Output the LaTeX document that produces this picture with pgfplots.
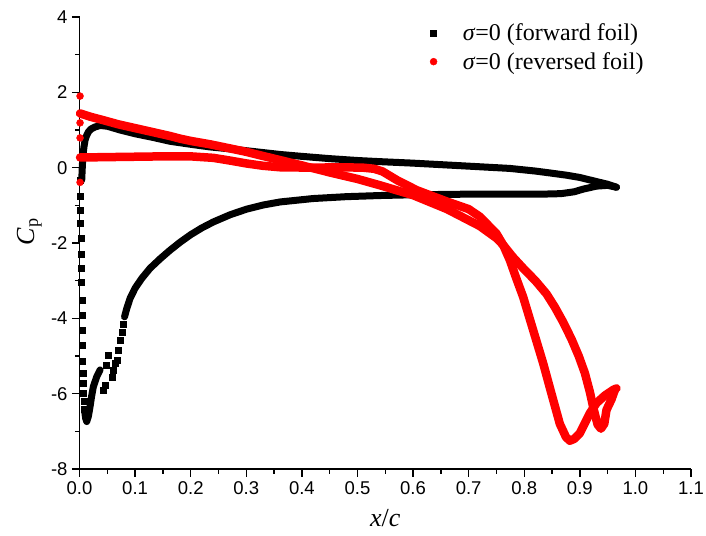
\documentclass[border=0pt]{standalone}
\usepackage{fontspec}
\setmainfont{Liberation Serif}
\newfontfamily\tickfont{Liberation Sans}
\usepackage{pgfplots}
\pgfplotsset{compat=1.18}
\definecolor{myred}{RGB}{255,0,0}
\begin{document}
\begin{tikzpicture}
\begin{axis}[
  scale only axis, width=611.5bp, height=452bp,
  xmin=0, xmax=1.1, ymin=-8, ymax=4,
  clip=false,
  axis x line*=bottom, axis y line*=left,
  axis line style={line width=1.5bp, -},
  xtick={0,0.1,0.2,0.3,0.4,0.5,0.6,0.7,0.8,0.9,1.0,1.1},
  ytick={-8,-6,-4,-2,0,2,4},
  minor tick num=1,
  tick align=outside,
  major tick length=7.5bp, minor tick length=4.5bp,
  every tick/.style={black, line width=1.4bp},
  xticklabel style={/pgf/number format/fixed, /pgf/number format/fixed zerofill,
    /pgf/number format/precision=1, yshift=-2bp},
  yticklabel style={xshift=-1bp},
  /pgf/number format/assume math mode=true,
  tick label style={font=\tickfont\fontsize{18.5bp}{22bp}\selectfont},
  xlabel={\textit{x}/\textit{c}},
  ylabel={\textit{C}\textsubscript{p}},
  label style={font=\fontsize{26bp}{30bp}\selectfont},
  x label style={at={(axis description cs:0.5,-0.108)}, anchor=center},
  y label style={at={(axis description cs:-0.082,0.525)}, anchor=center},
  legend style={draw=none, fill=none, at={(rel axis cs:0.573,0.987)}, anchor=north west,
    font=\fontsize{24bp}{28bp}\selectfont, row sep=8bp, inner sep=0pt,
    nodes={inner sep=1bp}},
  legend cell align=left,
  legend image code/.code={\path (0bp,0bp) (28bp,0bp); \draw[#1] plot coordinates {(0bp,0bp)};},
]
% forward foil: discrete leading-edge column (legend entry)
\addplot[only marks, mark=square*, mark size=3bp, black] coordinates {
(0.002,-0.33)(0.002,-0.77)(0.002,-1.13)(0.002,-1.48)(0.003,-1.88)(0.003,-2.29)
(0.003,-2.67)(0.003,-3.03)(0.004,-3.53)(0.004,-3.91)(0.004,-4.31)(0.005,-4.71)
(0.005,-5.15)(0.006,-5.46)(0.006,-5.72)(0.007,-5.99)(0.008,-6.21)(0.009,-6.42)
};
\addlegendentry{\textit{σ}=0 (forward foil)}
% forward foil: scattered marks near x/c = 0.04-0.08
\addplot[only marks, mark=square*, mark size=3bp, black, forget plot] coordinates {
(0.043,-5.9)(0.046,-5.77)(0.048,-5.24)(0.052,-4.97)(0.058,-5.55)(0.061,-5.37)
(0.064,-5.19)(0.067,-5.1)(0.070,-4.84)(0.073,-4.58)(0.076,-4.36)(0.078,-4.15)
};
% forward foil: trough
\addplot[black, line width=7bp, line join=round, line cap=round, forget plot] coordinates {
(0.009,-6.42)(0.011,-6.65)(0.013,-6.74)(0.016,-6.6)(0.019,-6.34)(0.022,-6.05)
(0.025,-5.81)(0.031,-5.55)(0.037,-5.37)
};
% forward foil: suction side, dense part
\addplot[black, line width=7bp, line join=round, line cap=round, forget plot] coordinates {
(0.081,-3.96)(0.085,-3.74)(0.091,-3.47)(0.1,-3.2)(0.112,-2.94)(0.127,-2.67)
(0.145,-2.42)(0.163,-2.19)(0.181,-1.98)(0.2,-1.78)(0.22,-1.6)(0.241,-1.44)
(0.271,-1.25)(0.301,-1.1)(0.331,-0.99)(0.361,-0.91)(0.42,-0.82)(0.48,-0.77)
(0.54,-0.74)(0.6,-0.72)(0.66,-0.71)(0.72,-0.70)(0.78,-0.70)(0.84,-0.70)
(0.866,-0.69)(0.89,-0.64)(0.906,-0.57)(0.93,-0.49)(0.95,-0.47)(0.966,-0.52)
};
% forward foil: pressure side
\addplot[black, line width=7bp, line join=round, line cap=round, forget plot] coordinates {
(0.004,-0.33)(0.005,0.0)(0.006,0.29)(0.008,0.55)(0.010,0.73)(0.013,0.86)
(0.016,0.95)(0.021,1.03)(0.028,1.08)(0.037,1.12)(0.05,1.1)(0.073,1.0)
(0.1,0.9)(0.133,0.8)(0.163,0.7)(0.2,0.62)(0.235,0.55)(0.27,0.5)(0.3,0.45)
(0.361,0.35)(0.4,0.3)(0.45,0.24)(0.5,0.19)(0.54,0.16)(0.6,0.12)(0.65,0.08)
(0.7,0.04)(0.774,-0.02)(0.82,-0.09)(0.846,-0.14)(0.876,-0.2)(0.9,-0.26)
(0.93,-0.37)(0.95,-0.44)(0.966,-0.52)
};
% reversed foil: isolated points at the leading edge (legend entry)
\addplot[only marks, mark=*, mark size=3.5bp, myred] coordinates {
(0.001,1.9)(0.001,1.19)(0.001,0.79)(0.001,-0.39)
};
\addlegendentry{\textit{σ}=0 (reversed foil)}
% reversed foil: branch A
\addplot[myred, line width=8.5bp, line join=round, line cap=round, forget plot] coordinates {
(0.001,1.44)(0.02,1.35)(0.043,1.26)(0.07,1.15)(0.103,1.04)(0.13,0.95)
(0.163,0.84)(0.181,0.77)(0.2,0.71)(0.235,0.62)(0.271,0.51)(0.3,0.42)
(0.33,0.31)(0.361,0.2)(0.4,0.06)(0.451,-0.13)(0.5,-0.3)(0.541,-0.47)
(0.6,-0.73)(0.661,-1.1)(0.72,-1.55)(0.75,-1.87)(0.762,-2.05)(0.78,-2.38)
(0.8,-2.7)(0.82,-3.0)(0.84,-3.35)(0.855,-3.7)(0.87,-4.1)(0.885,-4.55)
(0.898,-5.0)(0.909,-5.45)(0.918,-5.95)(0.925,-6.42)(0.932,-6.82)(0.938,-6.93)
(0.944,-6.8)(0.948,-6.43)(0.957,-6.15)(0.963,-5.9)
};
% reversed foil: branch B
\addplot[myred, line width=8.5bp, line join=round, line cap=round, forget plot] coordinates {
(0.001,0.27)(0.05,0.28)(0.1,0.29)(0.15,0.3)(0.2,0.3)(0.241,0.26)(0.27,0.19)
(0.301,0.11)(0.33,0.05)(0.361,0.01)(0.42,0.0)(0.47,0.01)(0.51,0.0)(0.53,-0.03)
(0.545,-0.1)(0.571,-0.33)(0.607,-0.6)(0.661,-0.9)(0.7,-1.1)(0.72,-1.3)
(0.75,-1.75)(0.762,-2.05)(0.774,-2.45)(0.786,-2.95)(0.798,-3.43)(0.816,-4.31)
(0.834,-5.19)(0.849,-6.0)(0.864,-6.8)(0.875,-7.15)(0.882,-7.25)(0.89,-7.2)
(0.9,-7.05)(0.918,-6.52)(0.93,-6.25)(0.945,-6.05)(0.96,-5.9)(0.966,-5.86)
};
\coordinate (sw) at (rel axis cs:0,0);
\end{axis}
\pgfresetboundingbox
\path ([shift={(-79.5bp,-67bp)}]sw) rectangle ([shift={(626.5bp,469bp)}]sw);
\end{tikzpicture}
\end{document}
